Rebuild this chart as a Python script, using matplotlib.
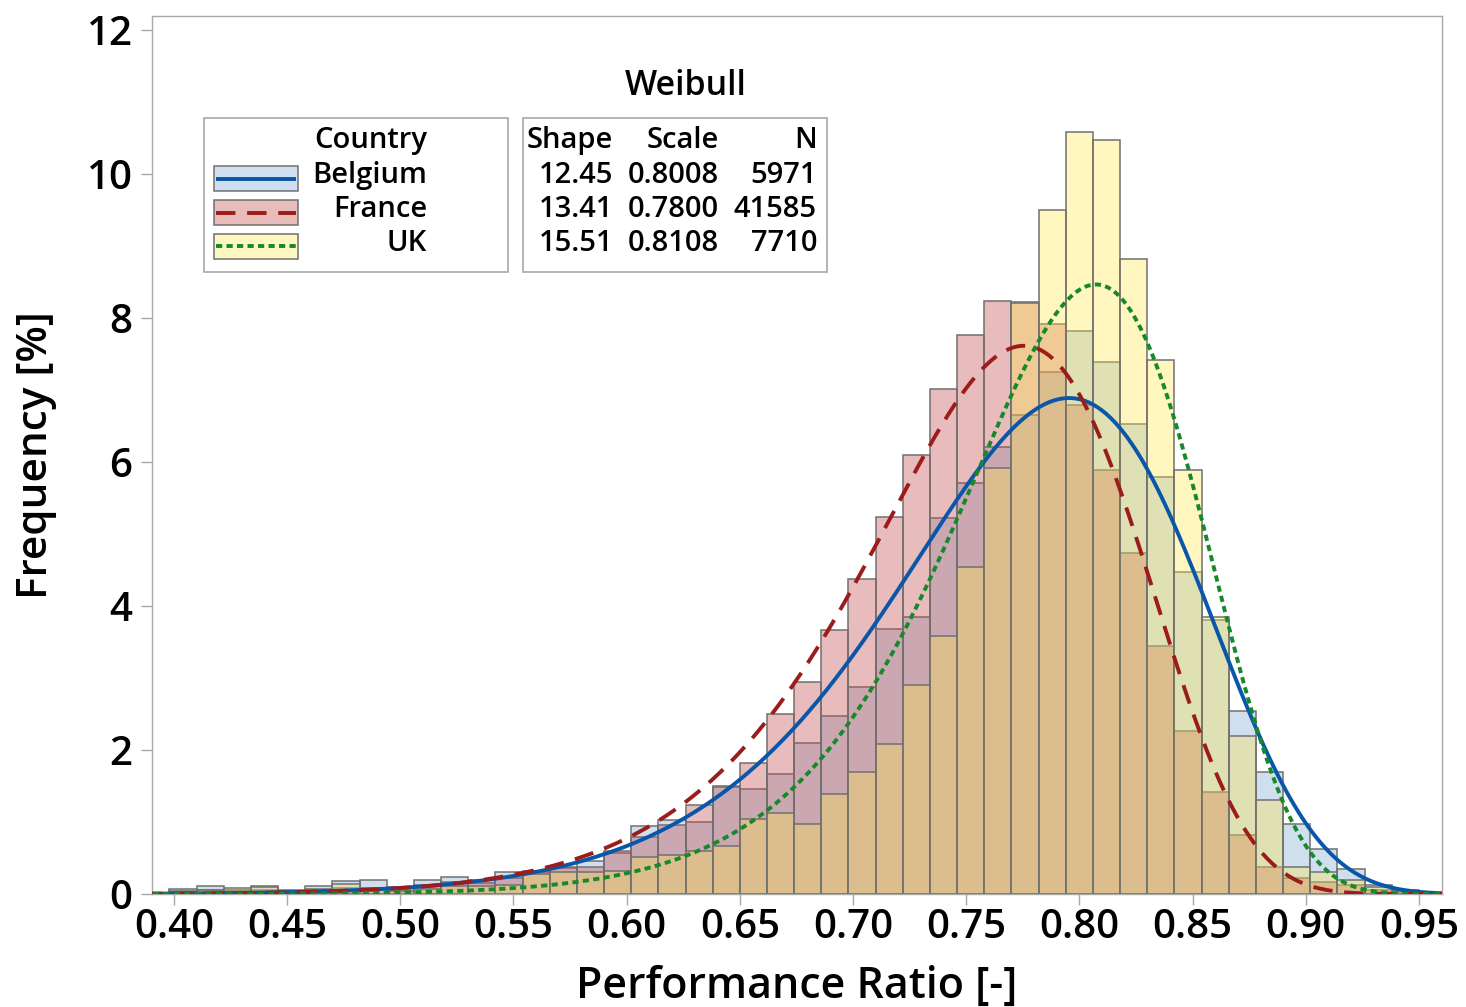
import numpy as np
import matplotlib
matplotlib.use("Agg")
import matplotlib.pyplot as plt
from matplotlib.patches import Rectangle
from matplotlib.lines import Line2D

plt.rcParams['font.family'] = ['Open Sans', 'DejaVu Sans']

# ---------------- data ----------------
countries = ["Belgium", "France", "UK"]
bin_mid = [0.392, 0.404, 0.416, 0.428, 0.440, 0.452, 0.464, 0.476, 0.488, 0.500,
           0.512, 0.524, 0.536, 0.548, 0.560, 0.572, 0.584, 0.596, 0.608, 0.620,
           0.632, 0.644, 0.656, 0.668, 0.680, 0.692, 0.704, 0.716, 0.728, 0.740,
           0.752, 0.764, 0.776, 0.788, 0.800, 0.812, 0.824, 0.836, 0.848, 0.860,
           0.872, 0.884, 0.896, 0.908, 0.920, 0.932, 0.944, 0.956]
bin_width = 0.012

freq_belgium = [0.02, 0.07, 0.11, 0.06, 0.11, 0.06, 0.11, 0.18, 0.20, 0.08,
                0.20, 0.24, 0.15, 0.31, 0.30, 0.36, 0.46, 0.57, 0.94, 1.03,
                1.00, 1.48, 1.46, 1.67, 2.10, 2.47, 2.87, 3.68, 3.84, 5.22,
                5.71, 6.20, 6.65, 7.25, 7.81, 7.39, 6.53, 5.79, 4.47, 3.80,
                2.54, 1.70, 0.97, 0.62, 0.35, 0.13, 0.06, 0.02]
freq_france = [0.02, 0.04, 0.06, 0.05, 0.06, 0.04, 0.07, 0.08, 0.08, 0.10,
               0.12, 0.17, 0.20, 0.22, 0.32, 0.38, 0.38, 0.60, 0.79, 0.96,
               1.23, 1.50, 1.82, 2.50, 2.94, 3.66, 4.38, 5.23, 6.09, 7.01,
               7.76, 8.24, 8.22, 7.92, 6.79, 5.88, 4.74, 3.44, 2.26, 1.42,
               0.82, 0.37, 0.22, 0.17, 0.12, 0.06, 0.03, 0.01]
freq_uk = [0.01, 0.03, 0.05, 0.09, 0.10, 0.03, 0.05, 0.14, 0.05, 0.04,
           0.07, 0.11, 0.11, 0.12, 0.28, 0.30, 0.31, 0.32, 0.51, 0.54,
           0.60, 0.67, 1.04, 1.13, 0.97, 1.39, 1.69, 2.08, 2.90, 3.58,
           4.54, 5.92, 8.20, 9.50, 10.58, 10.47, 8.81, 7.42, 5.88, 3.84,
           2.19, 1.30, 0.37, 0.31, 0.19, 0.10, 0.04, 0.01]

shape = [12.45, 13.41, 15.51]
scale = [0.8008, 0.7800, 0.8108]
n_obs = [5971, 41585, 7710]

x_ticks = [0.40, 0.45, 0.50, 0.55, 0.60, 0.65, 0.70, 0.75, 0.80, 0.85, 0.90, 0.95]
y_ticks = [0, 2, 4, 6, 8, 10, 12]

# ---------------- styles ----------------
W, H = 1466, 1007
fill_rgb = [(118/255, 164/255, 209/255), (197/255, 79/255, 79/255), (255/255, 231/255, 73/255)]
fill_alpha = [0.35, 0.38, 0.34]
line_col = ["#0a56a8", "#9c1c1c", "#16892a"]
line_dash = [None, (5, 3), (1.6, 1.1)]
edge_col = "#707070"
frame_col = "#a8a8a8"
weight = 'semibold'

fig = plt.figure(figsize=(W / 100, H / 100), dpi=100)
ax = fig.add_axes([152 / W, 1 - 894 / H, (1442 - 152) / W, (894 - 16) / H])

freqs = [freq_belgium, freq_france, freq_uk]
for i in range(3):
    ax.bar(bin_mid, freqs[i], width=bin_width,
           facecolor=(*fill_rgb[i], fill_alpha[i]), edgecolor=edge_col,
           linewidth=1.1, zorder=2)

xs = np.linspace(0.386, 0.962, 600)
for i in range(3):
    k, lam = shape[i], scale[i]
    pdf = (k / lam) * (xs / lam) ** (k - 1) * np.exp(-(xs / lam) ** k)
    ln, = ax.plot(xs, pdf * bin_width * 100, color=line_col[i], lw=2.8, zorder=3,
                  solid_capstyle='butt')
    if line_dash[i] is not None:
        ln.set_dashes(line_dash[i])

ax.set_xlim(0.3903, 0.9602)
ax.set_ylim(0, 12.19)
ax.set_xticks(x_ticks)
ax.set_xticklabels([f"{v:.2f}" for v in x_ticks], fontweight=weight)
ax.set_yticks(y_ticks)
ax.set_yticklabels([str(v) for v in y_ticks], fontweight=weight)
ax.tick_params(axis='both', direction='out', length=8, width=1.0, color=frame_col,
               labelsize=29, labelcolor='black')
ax.tick_params(axis='x', pad=2)
ax.tick_params(axis='y', pad=6)
for s in ax.spines.values():
    s.set_color(frame_col)
    s.set_linewidth(1.0)

# axis labels
def fx(x):
    return x / W

def fy(y):
    return 1 - y / H

fig.text(fx(36), fy(455), "Frequency [%]", rotation=90, ha='center', va='center',
         fontsize=30.5, fontweight=weight)
fig.text(fx(797), fy(986), "Performance Ratio [-]", ha='center', va='center',
         fontsize=31, fontweight=weight)

# title
fig.text(fx(686), fy(95), "Weibull", ha='center', va='baseline', fontsize=24.5,
         fontweight=weight)

# legend boxes
for (x0, x1) in [(204, 508), (523, 827)]:
    fig.add_artist(Rectangle((fx(x0), fy(272)), (x1 - x0) / W, (272 - 118) / H,
                             transform=fig.transFigure, facecolor='white',
                             edgecolor=frame_col, linewidth=1.2, zorder=5))

fs_leg = 21
fig.text(fx(427), fy(148), "Country", ha='right', va='baseline', fontsize=fs_leg,
         fontweight=weight, zorder=6)
row_base = [183, 217, 251]
patch_top = [166, 200, 234]
for i in range(3):
    blended = tuple(fill_alpha[i] * c + (1 - fill_alpha[i]) * 1.0 for c in fill_rgb[i])
    fig.add_artist(Rectangle((fx(214), fy(patch_top[i] + 25)), 84 / W, 25 / H,
                             transform=fig.transFigure, facecolor=blended,
                             edgecolor=edge_col, linewidth=1.1, zorder=6))
    ymid = fy(patch_top[i] + 12.5)
    l = Line2D([fx(216), fx(296)], [ymid, ymid], transform=fig.transFigure,
               color=line_col[i], lw=2.8, zorder=7, solid_capstyle='butt')
    if line_dash[i] is not None:
        l.set_dashes(line_dash[i])
    fig.add_artist(l)
    fig.text(fx(427), fy(row_base[i]), countries[i], ha='right', va='baseline',
             fontsize=fs_leg, fontweight=weight, zorder=6)

# table
col_right = [613, 719, 817]
headers = ["Shape", "Scale", "N"]
for j in range(3):
    fig.text(fx(col_right[j]), fy(148), headers[j], ha='right', va='baseline',
             fontsize=fs_leg, fontweight=weight, zorder=6)
for i in range(3):
    vals = [f"{shape[i]:.2f}", f"{scale[i]:.4f}", f"{n_obs[i]}"]
    for j in range(3):
        fig.text(fx(col_right[j]), fy(row_base[i]), vals[j], ha='right', va='baseline',
                 fontsize=fs_leg, fontweight=weight, zorder=6)

fig.savefig("out.png", dpi=100)
